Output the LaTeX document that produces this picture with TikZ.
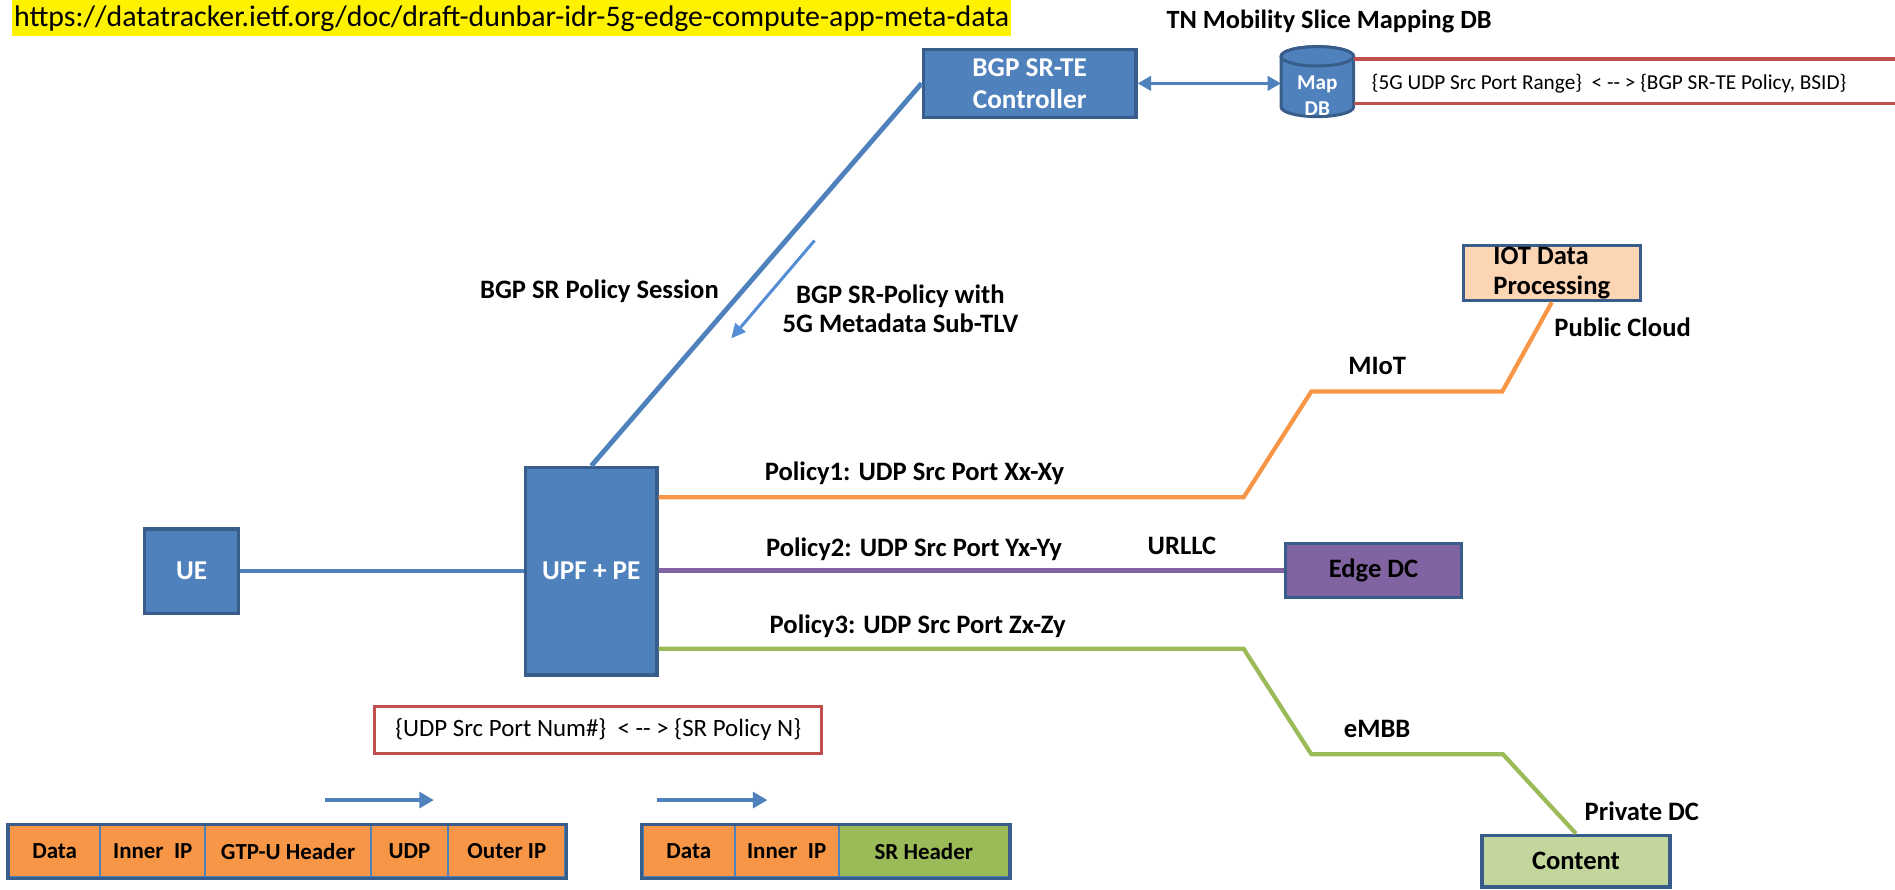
\documentclass[tikz,border=0pt]{standalone}
\usepackage{fontspec}
\setmainfont{Carlito}
\usetikzlibrary{arrows.meta,calc}
\definecolor{bfill}{HTML}{4F81BD}
\definecolor{bborder}{HTML}{385D8A}
\definecolor{orng}{HTML}{F79646}
\definecolor{purp}{HTML}{8064A2}
\definecolor{grn}{HTML}{9BBB59}
\definecolor{redc}{HTML}{C0504D}
\definecolor{peach}{HTML}{FCD5B5}
\definecolor{lgrn}{HTML}{C3D69B}
\definecolor{arrblue}{HTML}{558ED5}
\begin{document}
\begin{tikzpicture}[x=1pt,y=-1pt,every node/.style={inner sep=0pt}]
\tikzset{
  lbl/.style={font=\fontsize{22}{24}\selectfont\bfseries, text=black},
  bbox/.style={draw=bborder, fill=bfill, line width=2.8pt, text=white, align=center, font=\fontsize{22.5}{26.5}\selectfont\bfseries},
  cbox/.style={draw=bborder, line width=2.8pt, text=black, font=\fontsize{22}{24.3}\selectfont\bfseries},
  cell/.style={draw=bfill, fill=orng, line width=1.8pt, minimum height=43, anchor=north west, font=\fontsize{19}{23}\selectfont\bfseries},
  conn/.style={line width=3.5pt},
  blk/.style={draw=bfill, line width=3pt, -{Triangle[length=12pt,width=13pt]}},
}
\useasboundingbox (0,0) rectangle (1568,736);

% URL
\node[fill=yellow, anchor=north west, minimum height=30, inner xsep=1.5pt, font=\fontsize{24.7}{29}\selectfont] (url) at (10,0) {https://datatracker.ietf.org/doc/draft-dunbar-idr-5g-edge-compute-app-meta-data};

% title
\node[lbl, anchor=west, font=\fontsize{21.8}{24}\selectfont\bfseries] (tn) at (965,18) {TN Mobility Slice Mapping DB};

% controller
\node[bbox, minimum width=176, minimum height=56] (ctrl) at (852,69) {BGP SR-TE\\Controller};

% Map DB cylinder
\draw[draw=bborder, fill=bfill, line width=2.5pt] (1060,46.6) -- (1060,88.5) arc[start angle=180, end angle=0, x radius=30, y radius=8] -- (1120,46.6) arc[start angle=0, end angle=-180, x radius=30, y radius=8] -- cycle;
\draw[draw=bborder, fill=bfill, line width=2.5pt] (1090,46.6) ellipse[x radius=30, y radius=8];
\node[minimum width=60, minimum height=58] (mapdb) at (1090,69) {};
\node[text=white, align=center, font=\fontsize{17.5}{21}\selectfont\bfseries] (mapdbtxt) at (1090,79) {Map\\DB};

% red table lines
\draw[redc, line width=3pt] (1120,48.8) -- (1568,48.8);
\draw[redc, line width=3pt] (1120,85.5) -- (1568,85.5);
\node[anchor=west, font=\fontsize{17.6}{22}\selectfont] (range) at (1135,69) {\{5G UDP Src Port Range\}\ \ < -{}- > \{BGP SR-TE Policy, BSID\}};

% controller <-> map db
\draw[draw=bfill, line width=2.3pt, {Triangle[length=11pt,width=12pt]}-{Triangle[length=11pt,width=12pt]}] (ctrl.east) -- (ctrl.east -| mapdb.west);

% UE and UPF
\node[bbox, minimum width=78, minimum height=70] (ue) at (158.5,472.6) {UE};
\node[bbox, minimum width=108.6, minimum height=171.6] (upf) at (489.3,472.6) {UPF + PE};

% destination boxes
\node[cbox, fill=peach, minimum width=146.4, minimum height=45.5, align=left] (iot) at (1284,226) {IOT Data\\Processing};
\node[cbox, fill=purp, minimum width=146, minimum height=45] (edge) at (1136.5,472) {Edge DC};
\node[cbox, fill=lgrn, minimum width=155.7, minimum height=42.7] (content) at (1304,712.5) {Content};

% connectors
\draw[draw=bfill, line width=3.6pt] (ue.east) -- (upf.west);
\draw[draw=bfill, line width=4pt] (upf.north) -- (ctrl.west);
\coordinate (o1) at (0,411.5);
\coordinate (g1) at (0,536.8);
\draw[orng, conn] (upf.east |- o1) -- (1029,411.5) -- (1085,324) -- (1243,324) -- (iot.south);
\draw[purp, conn] (upf.east |- edge.west) -- (edge.west);
\draw[grn, conn] (upf.east |- g1) -- (1029,536.8) -- (1085,624) -- (1243.5,624) -- (content.north);

% session arrow
\coordinate (sa) at (674,199);
\coordinate (sb) at (605,280);
\draw[draw=arrblue, line width=2.5pt, -{Triangle[length=12pt,width=11pt]}] (sa) -- (sb);

% labels
\node[lbl] (sess) at (496,241) {BGP SR Policy Session};
\node[lbl, align=center] (meta) at (745,255.5) {BGP SR-Policy with\\5G Metadata Sub-TLV};
\node[lbl, anchor=west] (pol1) at (632.7,391.7) {Policy1: UDP Src Port Xx-Xy};
\node[lbl, anchor=west] (pol2) at (633.7,454.3) {Policy2: UDP Src Port Yx-Yy};
\node[lbl, anchor=west] (pol3) at (636.7,518.6) {Policy3: UDP Src Port Zx-Zy};
\node[lbl] (urllc) at (978,452) {URLLC};
\node[lbl] (miot) at (1139.5,303) {MIoT};
\node[lbl, anchor=west] (pubc) at (1286,270.8) {Public Cloud};
\node[lbl] (embb) at (1139.5,603.5) {eMBB};
\node[lbl, anchor=west] (privdc) at (1311,671) {Private DC};

% mapping box
\node[draw=redc, line width=2.5pt, minimum width=370, minimum height=38.5, font=\fontsize{20.6}{25}\selectfont] (mapbox) at (495,604) {\{UDP Src Port Num\#\}\ \ < -{}- > \{SR Policy N\}};

% packet arrows
\coordinate (a1s) at (269,662);
\coordinate (a1e) at (359,662);
\coordinate (a2s) at (544,662);
\coordinate (a2e) at (635,662);
\draw[blk] (a1s) -- (a1e);
\draw[blk] (a2s) -- (a2e);

% packet 1
\node[cell, minimum width=75.4] (p1) at (6.6,682) {Data};
\node[cell, minimum width=87] (p2) at (82,682) {Inner\ \ IP};
\node[cell, minimum width=137] (p3) at (169,682) {GTP-U Header};
\node[cell, minimum width=64] (p4) at (306,682) {UDP};
\node[cell, minimum width=97] (p5) at (370,682) {Outer IP};
\draw[bborder, line width=2.8pt] (p1.north west) rectangle (p5.south east);

% packet 2
\node[cell, minimum width=76] (q1) at (531,682) {Data};
\node[cell, minimum width=86] (q2) at (607,682) {Inner\ \ IP};
\node[cell, fill=grn, minimum width=141] (q3) at (693,682) {SR Header};
\draw[bborder, line width=2.8pt] (q1.north west) rectangle (q3.south east);
\end{tikzpicture}
\end{document}
